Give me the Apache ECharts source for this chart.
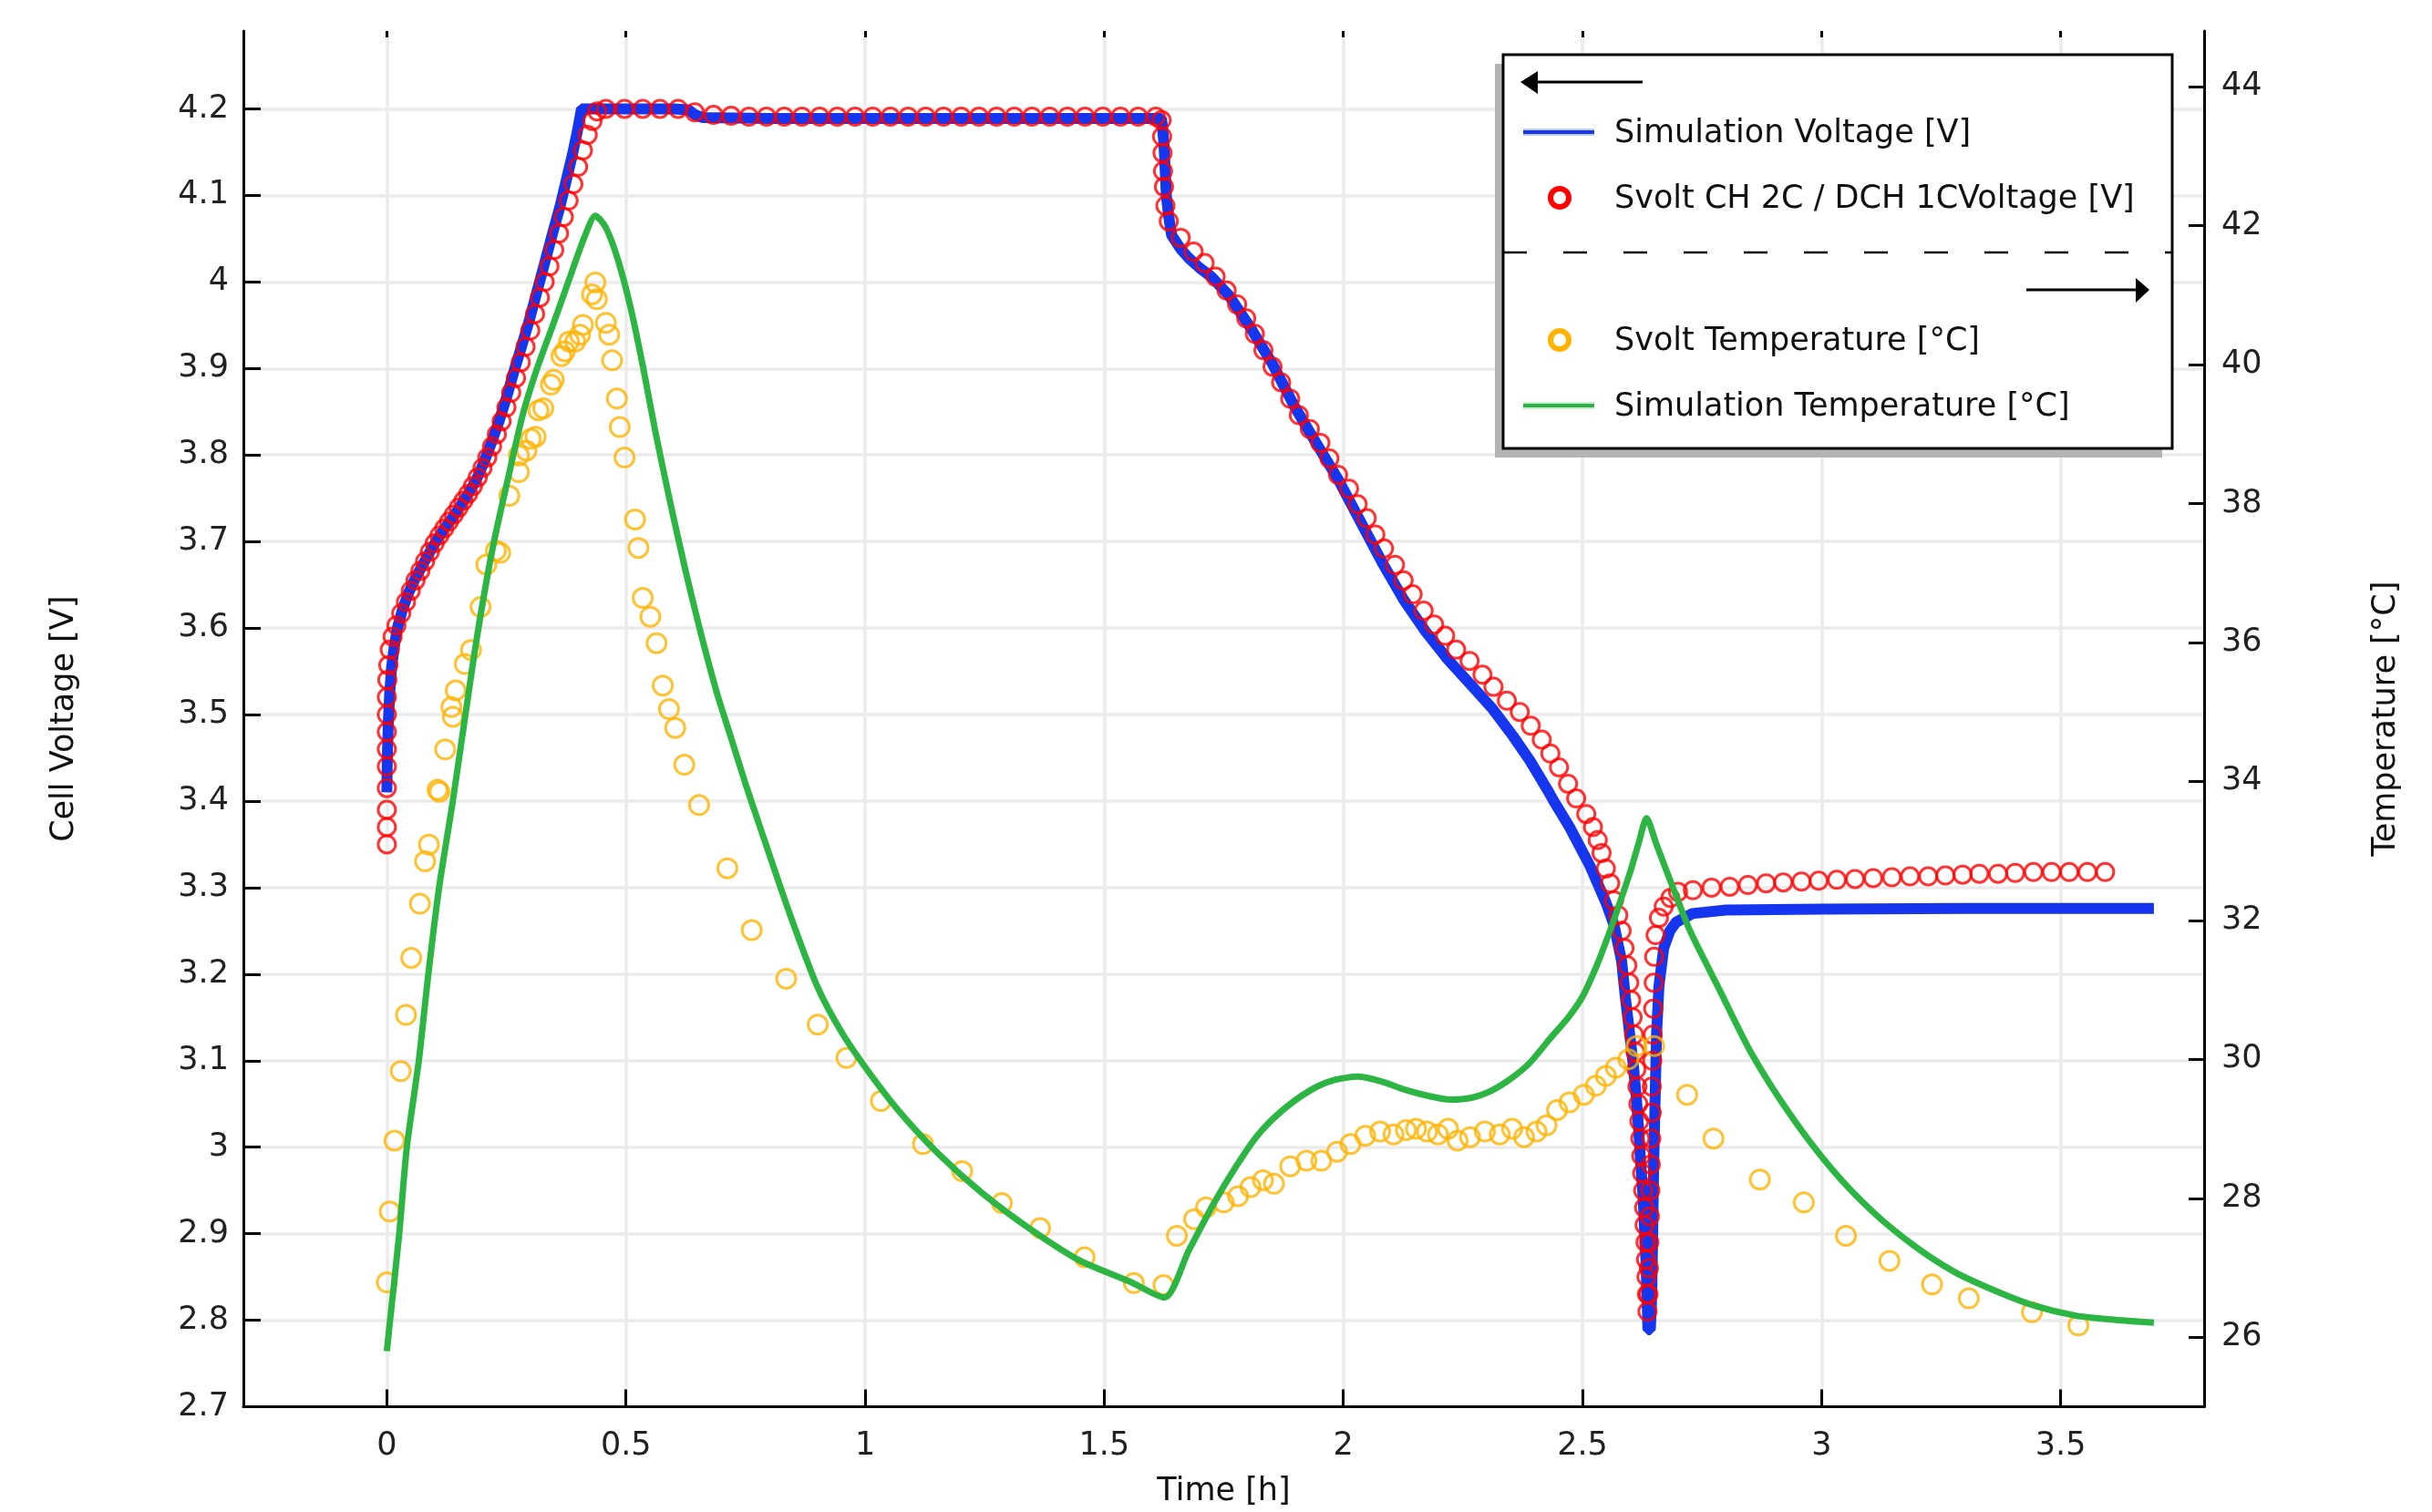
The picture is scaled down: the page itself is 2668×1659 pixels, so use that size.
<!DOCTYPE html>
<html>
<head>
<meta charset="utf-8">
<title>Svolt CH 2C / DCH 1C</title>
<script src="https://cdn.jsdelivr.net/npm/echarts@6.0.0/dist/echarts.min.js"></script>
<style>
  html, body { margin: 0; padding: 0; background: #fff; }
  #main { width: 2668px; height: 1659px; }
</style>
</head>
<body>
<div id="main"></div>
<script>
// simulation voltage [h, V]
const simVoltage = [
  [0, 3.41], [0.001, 3.45], [0.003, 3.49], [0.006, 3.525], [0.01, 3.555], [0.016, 3.58], [0.022, 3.6],
  [0.032, 3.62], [0.045, 3.64], [0.06, 3.658], [0.074, 3.672], [0.09, 3.688], [0.106, 3.703], [0.122, 3.716],
  [0.138, 3.728], [0.155, 3.742], [0.17, 3.755], [0.186, 3.77], [0.202, 3.79], [0.218, 3.813], [0.234, 3.838],
  [0.25, 3.866], [0.266, 3.897], [0.282, 3.926], [0.298, 3.956], [0.314, 3.989], [0.33, 4.022], [0.346, 4.055],
  [0.362, 4.087], [0.375, 4.117], [0.388, 4.147], [0.398, 4.173], [0.407, 4.2], [0.5, 4.2], [0.6, 4.2],
  [0.63, 4.199], [0.645, 4.193], [0.66, 4.19], [0.8, 4.189], [1.0, 4.189], [1.2, 4.189], [1.4, 4.189],
  [1.62, 4.189], [1.625, 4.16], [1.63, 4.1], [1.635, 4.075], [1.641, 4.054], [1.66, 4.038], [1.678, 4.027],
  [1.7, 4.016], [1.724, 4.006], [1.76, 3.985], [1.806, 3.947], [1.852, 3.905], [1.897, 3.857], [1.943, 3.814],
  [1.989, 3.772], [2.035, 3.724], [2.081, 3.676], [2.126, 3.633], [2.172, 3.596], [2.218, 3.564], [2.264, 3.536],
  [2.31, 3.508], [2.355, 3.475], [2.39, 3.447], [2.43, 3.41], [2.44, 3.4], [2.473, 3.37], [2.515, 3.326],
  [2.549, 3.283], [2.566, 3.257], [2.582, 3.215], [2.59, 3.172], [2.599, 3.13], [2.607, 3.092], [2.613, 3.055],
  [2.618, 3.017], [2.622, 2.98], [2.627, 2.942], [2.63, 2.905], [2.633, 2.867], [2.635, 2.83], [2.637, 2.789],
  [2.642, 2.789], [2.645, 2.83], [2.647, 2.905], [2.649, 2.98], [2.652, 3.055], [2.655, 3.13], [2.66, 3.186],
  [2.67, 3.23], [2.683, 3.25], [2.696, 3.26], [2.73, 3.27], [2.8, 3.274], [3.0, 3.275], [3.3, 3.276],
  [3.5, 3.276], [3.695, 3.276]
];

// measured voltage, Svolt CH 2C / DCH 1C [h, V]
const svoltVoltage = [
  [0, 3.35], [0, 3.37], [0, 3.39], [0, 3.415], [0, 3.44], [0, 3.46], [0, 3.48], [0, 3.5], [0, 3.52],
  [0.001, 3.54], [0.003, 3.557], [0.006, 3.575], [0.012, 3.59], [0.02, 3.603], [0.03, 3.617], [0.04, 3.63],
  [0.05, 3.643], [0.06, 3.655], [0.07, 3.666], [0.08, 3.677], [0.09, 3.688], [0.1, 3.698], [0.11, 3.707],
  [0.12, 3.715], [0.13, 3.723], [0.14, 3.731], [0.15, 3.739], [0.16, 3.747], [0.17, 3.755], [0.18, 3.764],
  [0.19, 3.774], [0.2, 3.785], [0.21, 3.797], [0.22, 3.81], [0.23, 3.824], [0.24, 3.839], [0.25, 3.855],
  [0.26, 3.872], [0.27, 3.889], [0.28, 3.907], [0.29, 3.925], [0.3, 3.944], [0.31, 3.963], [0.32, 3.982],
  [0.33, 4.0], [0.34, 4.018], [0.35, 4.037], [0.36, 4.056], [0.37, 4.075], [0.38, 4.094], [0.39, 4.113],
  [0.4, 4.133], [0.41, 4.152], [0.42, 4.17], [0.43, 4.186], [0.44, 4.197],
  [0.458, 4.2], [0.497, 4.2], [0.535, 4.2], [0.571, 4.2], [0.609, 4.2], [0.644, 4.196], [0.683, 4.193], [0.72, 4.192],
  [0.757, 4.191], [0.794, 4.191], [0.831, 4.191], [0.868, 4.191], [0.905, 4.191], [0.942, 4.191], [0.979, 4.191],
  [1.016, 4.191], [1.053, 4.191], [1.09, 4.191], [1.127, 4.191], [1.164, 4.191], [1.201, 4.191], [1.238, 4.191],
  [1.275, 4.191], [1.312, 4.191], [1.349, 4.191], [1.386, 4.191], [1.423, 4.191], [1.46, 4.191], [1.497, 4.191],
  [1.534, 4.191], [1.571, 4.191], [1.608, 4.191],
  [1.62, 4.187], [1.621, 4.168], [1.622, 4.149], [1.623, 4.128], [1.625, 4.11], [1.628, 4.088], [1.635, 4.07],
  [1.66, 4.051], [1.687, 4.035], [1.71, 4.022], [1.733, 4.006], [1.756, 3.99], [1.778, 3.974], [1.797, 3.958],
  [1.815, 3.94], [1.833, 3.921], [1.852, 3.902], [1.87, 3.884], [1.889, 3.865], [1.907, 3.846], [1.93, 3.83],
  [1.952, 3.814], [1.971, 3.796], [1.989, 3.777], [2.012, 3.761], [2.03, 3.743], [2.049, 3.727], [2.067, 3.708],
  [2.085, 3.692], [2.108, 3.673], [2.126, 3.655], [2.145, 3.639], [2.168, 3.62], [2.19, 3.604], [2.213, 3.591],
  [2.236, 3.575], [2.264, 3.562], [2.291, 3.546], [2.314, 3.532], [2.342, 3.516], [2.369, 3.503], [2.392, 3.487],
  [2.415, 3.471], [2.433, 3.455], [2.451, 3.439], [2.47, 3.42], [2.487, 3.403], [2.508, 3.385], [2.522, 3.37],
  [2.532, 3.355], [2.54, 3.34], [2.549, 3.322], [2.558, 3.305], [2.566, 3.285], [2.575, 3.268], [2.582, 3.25],
  [2.588, 3.23], [2.594, 3.21], [2.598, 3.19], [2.602, 3.17], [2.605, 3.15], [2.608, 3.13], [2.611, 3.11],
  [2.613, 3.09], [2.615, 3.07], [2.617, 3.05], [2.619, 3.03], [2.621, 3.01], [2.623, 2.99], [2.625, 2.97],
  [2.627, 2.95], [2.629, 2.93], [2.63, 2.91], [2.632, 2.89], [2.633, 2.87], [2.634, 2.85], [2.635, 2.83],
  [2.636, 2.81], [2.638, 2.83], [2.639, 2.86], [2.64, 2.89], [2.641, 2.92], [2.642, 2.95], [2.643, 2.98],
  [2.644, 3.01], [2.645, 3.04], [2.645, 3.07], [2.646, 3.1], [2.647, 3.13], [2.648, 3.16], [2.649, 3.19],
  [2.65, 3.22], [2.653, 3.245], [2.66, 3.265], [2.67, 3.278], [2.684, 3.288], [2.7, 3.295], [2.731, 3.297],
  [2.77, 3.3], [2.808, 3.301], [2.846, 3.303], [2.884, 3.305], [2.92, 3.306], [2.958, 3.307], [2.994, 3.308],
  [3.032, 3.309], [3.07, 3.31], [3.108, 3.311], [3.147, 3.312], [3.185, 3.313], [3.223, 3.313], [3.259, 3.314],
  [3.295, 3.315], [3.33, 3.316], [3.369, 3.316], [3.405, 3.317], [3.443, 3.318], [3.481, 3.318], [3.518, 3.318],
  [3.556, 3.318], [3.593, 3.318]
];

// measured temperature [h, degC]
const svoltTemp = [
  [0, 26.79], [0.006, 27.81], [0.016, 28.83], [0.029, 29.83], [0.04, 30.64], [0.051, 31.46], [0.069, 32.24],
  [0.08, 32.85], [0.088, 33.09], [0.106, 33.88], [0.11, 33.85], [0.122, 34.46], [0.135, 35.07], [0.138, 34.93],
  [0.144, 35.31], [0.163, 35.69], [0.176, 35.89], [0.196, 36.51], [0.208, 37.12], [0.228, 37.32], [0.237, 37.29],
  [0.256, 38.11], [0.276, 38.45], [0.276, 38.69], [0.292, 38.76], [0.301, 38.93], [0.311, 38.96], [0.317, 39.34],
  [0.327, 39.37], [0.343, 39.71], [0.349, 39.78], [0.365, 40.12], [0.372, 40.19], [0.381, 40.33], [0.394, 40.33],
  [0.404, 40.43], [0.41, 40.57], [0.429, 41.01], [0.436, 41.18], [0.439, 40.94], [0.458, 40.6], [0.465, 40.43],
  [0.471, 40.06], [0.481, 39.51], [0.487, 39.1], [0.497, 38.66], [0.519, 37.77], [0.526, 37.36], [0.535, 36.64],
  [0.551, 36.37], [0.564, 35.99], [0.577, 35.38], [0.59, 35.04], [0.603, 34.77], [0.622, 34.24], [0.653, 33.66],
  [0.712, 32.75], [0.763, 31.86], [0.835, 31.16], [0.901, 30.5], [0.961, 30.02], [1.033, 29.4], [1.121, 28.78],
  [1.203, 28.39], [1.286, 27.93], [1.366, 27.57], [1.459, 27.15], [1.562, 26.78], [1.624, 26.75], [1.652, 27.46],
  [1.688, 27.7], [1.713, 27.87], [1.75, 27.94], [1.78, 28.03], [1.806, 28.16], [1.832, 28.26], [1.855, 28.21],
  [1.889, 28.46], [1.923, 28.54], [1.954, 28.54], [1.987, 28.67], [2.015, 28.78], [2.046, 28.9], [2.077, 28.96],
  [2.105, 28.92], [2.131, 28.98], [2.152, 29.0], [2.175, 28.96], [2.198, 28.92], [2.219, 29.0], [2.239, 28.83],
  [2.265, 28.88], [2.296, 28.96], [2.327, 28.92], [2.353, 29.0], [2.378, 28.88], [2.404, 28.96], [2.425, 29.05],
  [2.447, 29.27], [2.473, 29.38], [2.503, 29.49], [2.528, 29.62], [2.549, 29.76], [2.57, 29.88], [2.596, 30.0],
  [2.613, 30.19], [2.65, 30.19], [2.719, 29.49], [2.774, 28.86], [2.871, 28.27], [2.963, 27.94], [3.051, 27.46],
  [3.142, 27.1], [3.231, 26.76], [3.308, 26.56], [3.44, 26.36], [3.537, 26.17]
];

// simulation temperature [h, degC]
const simTemp = [
  [0, 25.8], [0.0064, 26.22], [0.0256, 27.47], [0.0417, 28.73], [0.067, 29.99], [0.0865, 31.21], [0.109, 32.46],
  [0.138, 33.72], [0.163, 34.9], [0.189, 36.1], [0.221, 37.35], [0.253, 38.35], [0.285, 39.3], [0.317, 40.0],
  [0.349, 40.6], [0.381, 41.22], [0.413, 41.83], [0.436, 42.14], [0.458, 41.97], [0.484, 41.49], [0.51, 40.81],
  [0.535, 39.99], [0.561, 39.05], [0.593, 38.0], [0.625, 37.02], [0.657, 36.12], [0.689, 35.3], [0.721, 34.6],
  [0.753, 33.9], [0.78, 33.35], [0.811, 32.72], [0.85, 31.95], [0.9, 31.05], [0.95, 30.4], [1.0, 29.89],
  [1.069, 29.27], [1.152, 28.65], [1.244, 28.08], [1.347, 27.55], [1.45, 27.1], [1.554, 26.8], [1.626, 26.57],
  [1.677, 27.25], [1.727, 27.9], [1.775, 28.45], [1.82, 28.9], [1.87, 29.25], [1.93, 29.55], [1.98, 29.7],
  [2.03, 29.75], [2.08, 29.68], [2.13, 29.56], [2.18, 29.47], [2.223, 29.42], [2.27, 29.45], [2.31, 29.55],
  [2.35, 29.72], [2.39, 29.95], [2.43, 30.28], [2.47, 30.6], [2.5, 30.9], [2.53, 31.35], [2.555, 31.8],
  [2.578, 32.25], [2.6, 32.7], [2.618, 33.12], [2.634, 33.47], [2.655, 33.09], [2.676, 32.71], [2.7, 32.28],
  [2.727, 31.82], [2.786, 31.01], [2.854, 30.08], [2.939, 29.16], [3.024, 28.4], [3.108, 27.8], [3.193, 27.32],
  [3.278, 26.94], [3.363, 26.67], [3.447, 26.45], [3.532, 26.31], [3.615, 26.25], [3.695, 26.21]
];

const legendNames = [
  'Simulation Voltage [V]',
  'Svolt CH 2C / DCH 1CVoltage [V]',
  'Svolt Temperature [°C]',
  'Simulation Temperature [°C]'
];

const FONT = 'DejaVu Sans';
const chart = echarts.init(document.getElementById('main'));

const txt = (x, y, s) => ({
  type: 'text', x: x, y: y, z: 102,
  style: { text: s, fontSize: 35, fontFamily: FONT, fill: '#111', verticalAlign: 'middle', align: 'left' }
});

const option = {
  animation: false,
  backgroundColor: '#fff',
  grid: { left: 267, right: 250, top: 34, bottom: 105 },
  xAxis: [{
    type: 'value', min: -0.3, max: 3.8, splitNumber: 8,
    name: 'Time [h]', nameLocation: 'middle', nameGap: 93,
    nameTextStyle: { fontSize: 35, fontFamily: FONT, color: '#111', verticalAlign: 'middle' },
    axisLine: { onZero: false, lineStyle: { color: '#000', width: 3 } },
    axisTick: { inside: true, length: 19, lineStyle: { color: '#000', width: 3 } },
    axisLabel: { fontSize: 35, fontFamily: FONT, color: '#222', margin: 26, showMinLabel: false, showMaxLabel: false },
    splitLine: { show: true, showMinLine: false, showMaxLine: false, lineStyle: { color: '#ebebeb', width: 3.5 } }
  }, {
    type: 'value', position: 'top', min: -0.3, max: 3.8, splitNumber: 8,
    axisLine: { show: false, onZero: false },
    axisTick: { inside: true, length: 7, lineStyle: { color: '#000', width: 3 } },
    axisLabel: { show: false },
    splitLine: { show: false }
  }],
  yAxis: [{
    type: 'value', min: 2.7, max: 4.29, interval: 0.1, position: 'left',
    name: 'Cell Voltage [V]', nameLocation: 'middle', nameGap: 196, nameRotate: 90,
    nameTextStyle: { fontSize: 35, fontFamily: FONT, color: '#111', verticalAlign: 'middle' },
    axisLine: { show: true, onZero: false, lineStyle: { color: '#000', width: 3 } },
    axisTick: { show: true, inside: true, length: 19, lineStyle: { color: '#000', width: 3 } },
    axisLabel: { fontSize: 35, fontFamily: FONT, color: '#222', margin: 16, showMaxLabel: false },
    splitLine: { show: true, showMinLine: false, showMaxLine: false, lineStyle: { color: '#ebebeb', width: 3.5 } }
  }, {
    type: 'value', min: 25, max: 44.8, splitNumber: 10, position: 'right',
    name: 'Temperature [°C]', nameLocation: 'middle', nameGap: 200, nameRotate: 90,
    nameTextStyle: { fontSize: 35, fontFamily: FONT, color: '#111', verticalAlign: 'middle' },
    axisLine: { show: true, onZero: false, lineStyle: { color: '#000', width: 3 } },
    axisTick: { show: true, inside: true, length: 17, lineStyle: { color: '#000', width: 3 } },
    axisLabel: { fontSize: 35, fontFamily: FONT, color: '#222', margin: 19, showMinLabel: false, showMaxLabel: false },
    splitLine: { show: false }
  }],
  series: [{
    name: legendNames[0], type: 'line', yAxisIndex: 0, data: simVoltage,
    showSymbol: false, lineStyle: { color: '#1535ef', width: 12 }, z: 2
  }, {
    name: legendNames[1], type: 'scatter', yAxisIndex: 0, data: svoltVoltage,
    symbol: 'circle', symbolSize: 19,
    itemStyle: { color: 'rgba(255,255,255,0)', borderColor: '#ff0000', borderWidth: 3 }, z: 3
  }, {
    name: legendNames[2], type: 'scatter', yAxisIndex: 1, data: svoltTemp,
    symbol: 'circle', symbolSize: 21,
    itemStyle: { color: 'rgba(255,255,255,0)', borderColor: '#ffb300', borderWidth: 3 }, z: 4
  }, {
    name: legendNames[3], type: 'line', yAxisIndex: 1, data: simTemp, smooth: 0.25,
    showSymbol: false, lineStyle: { color: '#2cb543', width: 7 }, z: 5
  }],
  graphic: [
    { type: 'rect', z: 100, shape: { x: 1640, y: 70, width: 732, height: 432 }, style: { fill: '#b4b4b4' } },
    { type: 'rect', z: 101, shape: { x: 1649, y: 60, width: 734, height: 432 }, style: { fill: '#fff', stroke: '#000', lineWidth: 3 } },
    { type: 'line', z: 102, shape: { x1: 1680, y1: 90, x2: 1802, y2: 90 }, style: { stroke: '#000', lineWidth: 3 } },
    { type: 'polygon', z: 102, shape: { points: [[1668, 90], [1687, 78], [1687, 103]] }, style: { fill: '#000' } },
    { type: 'line', z: 102, shape: { x1: 1671, y1: 145, x2: 1749, y2: 145 }, style: { stroke: 'rgba(21,53,239,0.25)', lineWidth: 8 } },
    { type: 'line', z: 102, shape: { x1: 1671, y1: 145, x2: 1749, y2: 145 }, style: { stroke: '#1535ef', lineWidth: 4 } },
    txt(1771, 147, legendNames[0]),
    { type: 'circle', z: 102, shape: { cx: 1711, cy: 217, r: 10 }, style: { fill: 'none', stroke: '#ff0000', lineWidth: 6 } },
    txt(1771, 219, legendNames[1]),
    { type: 'line', z: 102, shape: { x1: 1649, y1: 277, x2: 2383, y2: 277 }, style: { stroke: '#000', lineWidth: 2.5, lineDash: [26, 40] } },
    { type: 'line', z: 102, shape: { x1: 2223, y1: 318, x2: 2345, y2: 318 }, style: { stroke: '#000', lineWidth: 3 } },
    { type: 'polygon', z: 102, shape: { points: [[2358, 318], [2343, 305], [2343, 332]] }, style: { fill: '#000' } },
    { type: 'circle', z: 102, shape: { cx: 1711, cy: 373, r: 10 }, style: { fill: 'none', stroke: '#ffb300', lineWidth: 6 } },
    txt(1771, 375, legendNames[2]),
    { type: 'line', z: 102, shape: { x1: 1671, y1: 445, x2: 1749, y2: 445 }, style: { stroke: 'rgba(44,181,67,0.25)', lineWidth: 8 } },
    { type: 'line', z: 102, shape: { x1: 1671, y1: 445, x2: 1749, y2: 445 }, style: { stroke: '#2cb543', lineWidth: 4 } },
    txt(1771, 447, legendNames[3])
  ]
};

chart.setOption(option);
</script>
</body>
</html>
